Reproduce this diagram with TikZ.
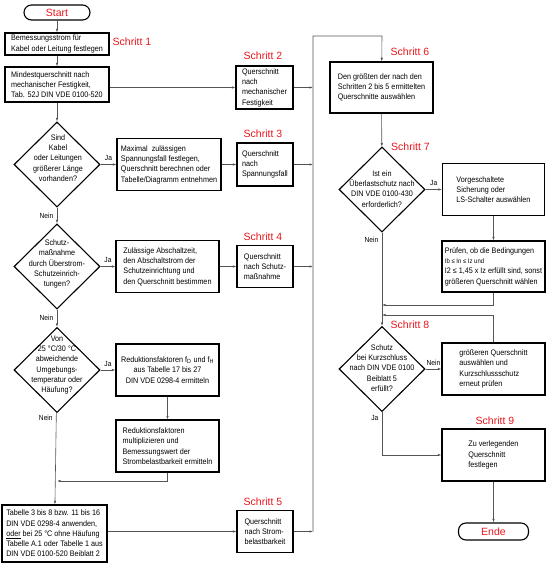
\documentclass[tikz,border=0pt]{standalone}
\usepackage{fontspec}
\setmainfont{Liberation Sans}
\newfontfamily\narrowsf{Liberation Sans}[FakeStretch=0.9]
\usetikzlibrary{shapes.geometric,arrows.meta}
\definecolor{schrittrot}{RGB}{232,22,28}
\definecolor{liniengrau}{RGB}{85,85,85}

\tikzset{
  box/.style={draw, line width=1.1pt, align=left, inner sep=2pt,
    font=\narrowsf\fontsize{8}{10.3}\selectfont},
  term/.style={draw, line width=1.1pt, rounded corners=7.5pt, text=schrittrot,
    font=\fontsize{10.5}{12}\selectfont},
  entscheid/.style={draw, diamond, line width=1.1pt, inner sep=0pt,
    minimum width=86pt, minimum height=85pt},
  dtext/.style={align=center, inner sep=0pt, font=\narrowsf\fontsize{8}{10.2}\selectfont},
  schritt/.style={text=schrittrot, font=\fontsize{10.5}{12}\selectfont},
  klein/.style={font=\narrowsf\fontsize{7.4}{8}\selectfont},
  pfeil/.style={draw=liniengrau, line width=0.6pt, -{Latex[length=3.5pt,width=2.4pt]}},
  linie/.style={draw=liniengrau, line width=0.6pt},
}

\begin{document}
\begin{tikzpicture}[x=1pt,y=-1pt]
    \useasboundingbox (0,0) rectangle (550,566);
    % linke Spalte
    \node[term, minimum width=66pt, minimum height=15pt] (start) at (57,12.5) {Start};
    \node[box, minimum width=104pt, minimum height=22pt] (fest) at (57,44) {Bemessungsstrom für\\Kabel oder Leitung festlegen};
    \node[schritt] (schritt1) at (132,42) {Schritt 1};
    \node[box, minimum width=104pt, minimum height=35pt] (mech) at (57,84.5) {Mindestquerschnitt nach\\mechanischer Festigkeit,\\Tab. 52J DIN VDE 0100-520};
    \node[entscheid] (laenge) at (57,164.5) {};
    \node[dtext] (laenget) at (58,158) {Sind\\Kabel\\oder Leitungen\\größerer Länge\\vorhanden?};
    \node[entscheid] (schutz) at (57,266.5) {};
    \node[dtext] (schutzt) at (57,264) {Schutz-\\maßnahme\\durch Überstrom-\\Schutzeinrich-\\tungen?};
    \node[entscheid] (temp) at (57,370) {};
    \node[dtext] (tempt) at (57,365) {Von\\25 °C/30 °C\\abweichende\\Umgebungs-\\temperatur oder\\Häufung?};
    \node[box, minimum width=105pt, minimum height=57pt] (tab) at (54.5,533.5) {Tabelle 3 bis 8 bzw. 11 bis 16\\DIN VDE 0298-4 anwenden,\\\underline{oder} bei 25 °C ohne Häufung\\Tabelle A.1 oder Tabelle 1 aus\\DIN VDE 0100-520 Beiblatt 2};
    \coordinate (knick) at (57,481);

    % mittlere Spalte
    \node[box, minimum width=104pt, minimum height=52pt] (span) at (169,164.5) {Maximal\ \ zulässigen\\Spannungsfall festlegen,\\Querschnitt berechnen oder\\Tabelle/Diagramm entnehmen};
    \node[box, minimum width=103pt, minimum height=52pt] (absch) at (167.5,266.5) {Zulässige Abschaltzeit,\\den Abschaltstrom der\\Schutzeinrichtung und\\den Querschnitt bestimmen};
    \node[box, align=center, minimum width=103pt, minimum height=52pt] (redf) at (167.5,370) {Reduktionsfaktoren f\textsubscript{D} und f\textsubscript{H}\\aus Tabelle 17 bis 27\\DIN VDE 0298-4 ermitteln};
    \node[box, minimum width=103pt, minimum height=52pt] (redm) at (167.5,446) {Reduktionsfaktoren\\multiplizieren und\\Bemessungswert der\\Strombelastbarkeit ermitteln};

    % Querschnitte
    \node[box, minimum width=57pt, minimum height=43pt] (qmech) at (264.5,87.5) {Querschnitt\\nach\\mechanischer\\Festigkeit};
    \node[schritt] (schritt2) at (263,56) {Schritt 2};
    \node[box, minimum width=56pt, minimum height=43pt] (qspan) at (265,164.5) {Querschnitt\\nach\\Spannungsfall};
    \node[schritt] (schritt3) at (263,134) {Schritt 3};
    \node[box, minimum width=56pt, minimum height=42pt] (qschutz) at (265,266.5) {Querschnitt\\nach Schutz-\\maßnahme};
    \node[schritt] (schritt4) at (263,237) {Schritt 4};
    \node[box, minimum width=56pt, minimum height=42pt] (qstrom) at (265,531.5) {Querschnitt\\nach Strom-\\belastbarkeit};
    \node[schritt] (schritt5) at (263,502) {Schritt 5};
    \coordinate (sammel) at (313,36);
    \coordinate (oben) at (382,36);

    % rechte Spalte
    \node[box, minimum width=103pt, minimum height=51pt] (groesst) at (381.5,87.5) {Den größten der nach den\\Schritten 2 bis 5 ermittelten\\Querschnitte auswählen};
    \node[schritt] (schritt6) at (410,52) {Schritt 6};
    \node[entscheid] (ueber) at (382,189.5) {};
    \node[dtext] (uebert) at (382,189) {Ist ein\\Überlastschutz nach\\DIN VDE 0100-430\\erforderlich?};
    \node[schritt] (schritt7) at (410.5,147) {Schritt 7};
    \node[box, minimum width=102pt, minimum height=52pt] (vorg) at (493.5,189.5) {Vorgeschaltete\\Sicherung oder\\LS-Schalter auswählen};
    \node[box, minimum width=103pt, minimum height=51pt] (pruef) at (493.5,266.5) {Prüfen, ob die Bedingungen\\{\fontsize{6.6}{8}\selectfont Ib ≤ In ≤ Iz und}\\I2 ≤ 1,45 x Iz erfüllt sind, sonst\\größeren Querschnitt wählen};
    \coordinate (rueck1) at (382,305);
    \coordinate (rueck2) at (382,315);
    \node[entscheid] (kurz) at (382,369) {};
    \node[dtext] (kurzt) at (382,368) {Schutz\\bei Kurzschluss\\nach DIN VDE 0100\\Beiblatt 5\\erfüllt?};
    \node[schritt] (schritt8) at (410,325) {Schritt 8};
    \node[box, minimum width=103pt, minimum height=52pt] (gross) at (493.5,369) {größeren Querschnitt\\auswählen und\\Kurzschlussschutz\\erneut prüfen};
    \node[box, minimum width=103pt, minimum height=52pt] (verleg) at (493.5,455) {Zu verlegenden\\Querschnitt\\festlegen};
    \node[schritt] (schritt9) at (495,421) {Schritt 9};
    \node[term, minimum width=70pt, minimum height=17pt] (ende) at (493.5,531.5) {Ende};

    % Verbindungen links
    \draw[pfeil] (start) -- (fest);
    \draw[pfeil] (fest) -- (mech);
    \draw[pfeil] (mech) -- (laenge);
    \draw[pfeil] (mech.east |- qmech.west) -- (qmech.west);
    \draw[pfeil] (laenge) -- node[klein, above] {Ja} (span);
    \draw[pfeil] (span) -- (qspan);
    \draw[pfeil] (laenge) -- node[klein, left] {Nein} (schutz);
    \draw[pfeil] (schutz) -- node[klein, above] {Ja} (absch);
    \draw[pfeil] (absch) -- (qschutz);
    \draw[pfeil] (schutz) -- node[klein, left] {Nein} (temp);
    \draw[pfeil] (temp) -- node[klein, above] {Ja} (redf);
    \draw[pfeil] (redf) -- (redm);
    \draw[pfeil] (redm.south) -- (redm.south |- knick) -- (knick);
    \draw[pfeil] (temp) -- node[klein, left, pos=0.055] {Nein} (tab);
    \draw[pfeil] (tab.east |- qstrom.west) -- (qstrom.west);

    % Sammelleitung
    \draw[pfeil] (qmech) -- (qmech -| sammel);
    \draw[pfeil] (qspan) -- (qspan -| sammel);
    \draw[pfeil] (qschutz) -- (qschutz -| sammel);
    \draw[pfeil] (qstrom) -- (qstrom -| sammel);
    \draw[pfeil] (qstrom -| sammel) -- (sammel) -- (oben) -- (groesst);

    % Verbindungen rechts
    \draw[pfeil] (groesst) -- (ueber);
    \draw[pfeil] (ueber) -- node[klein, above] {Ja} (vorg);
    \draw[pfeil] (vorg) -- (pruef);
    \draw[pfeil] (pruef.south) -- (pruef.south |- rueck1) -- (rueck1);
    \draw[pfeil] (ueber) -- node[klein, left, pos=0.075] {Nein} (kurz);
    \draw[pfeil] (gross.north) -- (gross.north |- rueck2) -- (rueck2);
    \draw[pfeil] (kurz) -- node[klein, above] {Nein} (gross);
    \draw[pfeil] (kurz.south) -- node[klein, left, pos=0.14] {Ja} (kurz.south |- verleg) -- (verleg);
    \draw[pfeil] (verleg) -- (ende);
\end{tikzpicture}
\end{document}
